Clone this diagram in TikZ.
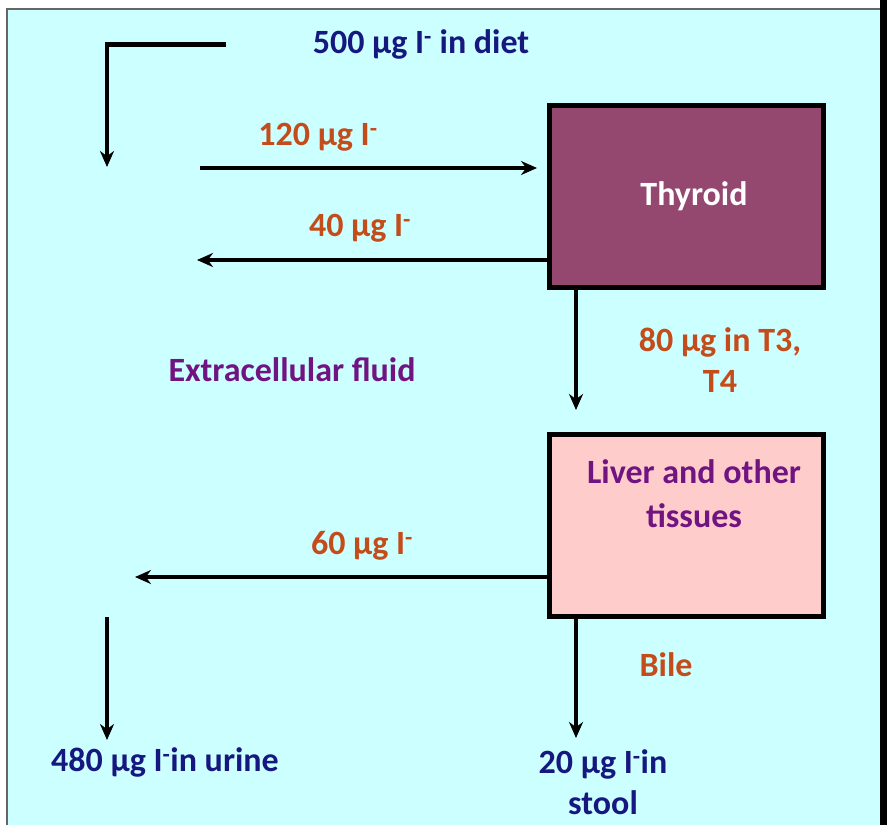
\documentclass[tikz,border=0pt]{standalone}
\usepackage{fontspec}
\setmainfont{Carlito}
\usepackage{tikz}
\usetikzlibrary{arrows.meta,positioning}
\definecolor{panelcyan}{RGB}{204,255,255}
\definecolor{thyroidplum}{RGB}{148,72,112}
\definecolor{liverpink}{RGB}{255,204,204}
\definecolor{labelnavy}{RGB}{22,24,128}
\definecolor{labelrust}{RGB}{196,76,26}
\definecolor{labelviolet}{RGB}{112,20,130}
\newcommand{\ug}{\textmu g}
\newcommand{\Ion}{I\textsuperscript{-}}

\begin{document}
\begin{tikzpicture}[
    x=1pt, y=-1pt,
    font=\fontsize{34}{41}\selectfont\bfseries,
    organ/.style={draw=black, line width=5pt, minimum width=274pt, minimum height=182pt, inner sep=0pt},
    flow/.style={-{Stealth[length=16pt,width=14pt]}, line width=3.5pt},
    amount/.style={text=labelrust, align=center},
    outlet/.style={text=labelnavy, align=center}
  ]
    \useasboundingbox (0,0) rectangle (887,825);
    \fill[white] (0,0) rectangle (887,9);
    \fill[panelcyan] (7,9) rectangle (880,825);
    \draw[gray!80!black, line width=1.5pt] (7,825) -- (7,9) -- (880,9);
    \fill[black] (880,0) rectangle (887,825);

    \node[organ, fill=thyroidplum] (thyroid) at (686.5,196.5) {};
    \node[text=white] (thyroidtext) at (694,196) {Thyroid};
    \node[organ, fill=liverpink] (liver) at (686.5,525) {};
    \node[text=labelviolet, align=center, font=\fontsize{34}{44}\selectfont\bfseries] (livertext) at (694,494) {Liver and other\\tissues};

    \node[text=labelnavy] (diet) at (421,44) {500 \ug{} \Ion{} in diet};
    \node[text=labelviolet] (ecf) at (292,370) {Extracellular fluid};
    \node[amount] (in120) at (318,137) {120 \ug{} \Ion};
    \node[amount] (out40) at (360,228) {40 \ug{} \Ion};
    \node[amount] (t3t4) at (720,360) {80 \ug{} in T3,\\T4};
    \node[amount] (out60) at (362,546) {60 \ug{} \Ion};
    \node[amount] (bile) at (666,665) {Bile};
    \node[outlet] (urine) at (165,762) {480 \ug{} \Ion in urine};
    \node[outlet] (stool) at (603,782) {20 \ug{} \Ion in\\stool};

    \coordinate (dietend) at (226,44);
    \coordinate (dietcorner) at (105,44);
    \coordinate (dietdown) at (107,167);
    \coordinate (ecfin) at (200,168);
    \coordinate (ecfout40) at (197,260);
    \coordinate (ecfout60) at (135,577);
    \coordinate (ecfurine) at (107,617);
    \coordinate (urinetop) at (107,740);
    \coordinate (stooltop) at (576,738);

    \draw[line width=5pt] (dietend) -- (dietcorner);
    \draw[flow] (dietcorner -| dietdown) ++(0,-2) -- (dietdown);
    \draw[flow, shorten >=10pt] (ecfin) -- (ecfin -| thyroid.west);
    \draw[flow] (ecfout40 -| thyroid.west) -- (ecfout40);
    \draw[flow] (thyroid.south -| 576,0) -- (576,410);
    \draw[flow] (ecfout60 -| liver.west) -- (ecfout60);
    \draw[flow] (ecfurine) -- (urinetop);
    \draw[flow] (liver.south -| stooltop) -- (stooltop);
  \end{tikzpicture}
\end{document}
